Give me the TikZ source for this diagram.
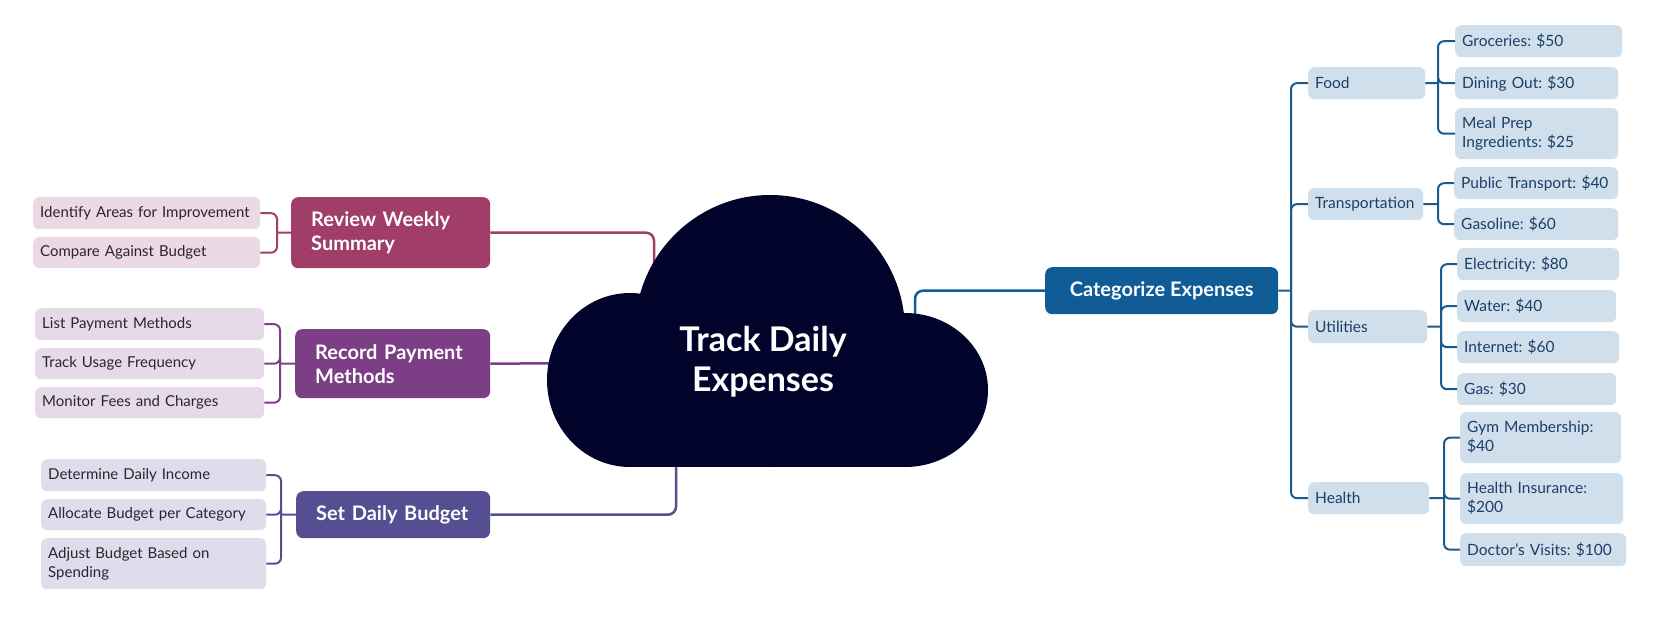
\documentclass[tikz,border=0pt]{standalone}
\usepackage{fontspec}
\setmainfont{Lato}
\frenchspacing
\definecolor{rev}{HTML}{A03D69}
\definecolor{revl}{HTML}{EBD9E3}
\definecolor{rec}{HTML}{7C3F86}
\definecolor{recl}{HTML}{E6DAE8}
\definecolor{setc}{HTML}{554E91}
\definecolor{setl}{HTML}{DFDDEC}
\definecolor{cat}{HTML}{0F5C96}
\definecolor{catl}{HTML}{D0DFEC}
\definecolor{cattext}{HTML}{1B3F66}
\definecolor{catline}{HTML}{1B5A8C}
\definecolor{lefttext}{HTML}{2C2430}
\definecolor{cloudc}{HTML}{02032A}
\begin{document}
\begin{tikzpicture}[x=1pt,y=-1pt,
  leaf/.style={rounded corners=6pt, inner xsep=7pt, inner ysep=0pt, align=left,
    anchor=north west, font=\fontsize{15}{19}\selectfont},
  leftleaf/.style={leaf, text=lefttext},
  rightleaf/.style={leaf, fill=catl, text=cattext, font=\fontsize{15.5}{19}\selectfont},
  main/.style={rounded corners=7pt, inner xsep=20pt, inner ysep=0pt, align=left,
    anchor=north west, text=white, font=\bfseries\fontsize{20}{24}\selectfont},
  mainline/.style={line width=2.5pt, rounded corners=8pt},
  subline/.style={line width=2pt, rounded corners=6pt}]
\useasboundingbox (0,0) rectangle (1662,627);

% ---------- left: Review Weekly Summary ----------
\node[main, fill=rev, text width=159pt, minimum height=71pt] (review) at (291,197) {Review Weekly\\Summary};
\node[leftleaf, fill=revl, text width=213pt, minimum height=32pt] (r1) at (33,197) {Identify Areas for Improvement};
\node[leftleaf, fill=revl, text width=213pt, minimum height=31pt] (r2) at (33,237) {Compare Against Budget};

% ---------- left: Record Payment Methods ----------
\node[main, fill=rec, text width=155pt, minimum height=69pt] (record) at (295,329) {Record Payment\\Methods};
\node[leftleaf, fill=recl, text width=215pt, minimum height=32pt] (p1) at (35,308) {List Payment Methods};
\node[leftleaf, fill=recl, text width=215pt, minimum height=31pt] (p2) at (35,348) {Track Usage Frequency};
\node[leftleaf, fill=recl, text width=215pt, minimum height=31pt] (p3) at (35,387) {Monitor Fees and Charges};

% ---------- left: Set Daily Budget ----------
\node[main, fill=setc, text width=154pt, minimum height=47pt] (set) at (296,491) {Set Daily Budget};
\node[leftleaf, fill=setl, text width=211pt, minimum height=32pt] (s1) at (41,459) {Determine Daily Income};
\node[leftleaf, fill=setl, text width=211pt, minimum height=31pt] (s2) at (41,499) {Allocate Budget per Category};
\node[leftleaf, fill=setl, text width=211pt, minimum height=51pt] (s3) at (41,538) {Adjust Budget Based on\\Spending};

% ---------- right: Categorize Expenses ----------
\node[main, fill=cat, align=center, inner xsep=0pt, minimum width=233pt, minimum height=47pt] (catn) at (1045,267) {Categorize Expenses};
\node[rightleaf, text width=103pt, minimum height=32pt] (food) at (1308,67) {Food};
\node[rightleaf, text width=101pt, minimum height=32pt] (trans) at (1308,188) {Transportation};
\node[rightleaf, text width=105pt, minimum height=33pt] (util) at (1308,310) {Utilities};
\node[rightleaf, text width=107pt, minimum height=32pt] (health) at (1308,482) {Health};

\node[rightleaf, text width=153pt, minimum height=32pt] (f1) at (1455,25) {Groceries: \$50};
\node[rightleaf, text width=149pt, minimum height=32pt] (f2) at (1455,67) {Dining Out: \$30};
\node[rightleaf, text width=149pt, minimum height=51pt] (f3) at (1455,108) {Meal Prep\\Ingredients: \$25};
\node[rightleaf, text width=150pt, minimum height=32pt] (t1) at (1454,167) {Public Transport: \$40};
\node[rightleaf, text width=150pt, minimum height=32pt] (t2) at (1454,208) {Gasoline: \$60};
\node[rightleaf, text width=148pt, minimum height=32pt] (u1) at (1457,248) {Electricity: \$80};
\node[rightleaf, text width=145pt, minimum height=32pt] (u2) at (1457,290) {Water: \$40};
\node[rightleaf, text width=148pt, minimum height=32pt] (u3) at (1457,331) {Internet: \$60};
\node[rightleaf, text width=145pt, minimum height=32pt] (u4) at (1457,373) {Gas: \$30};
\node[rightleaf, text width=147pt, minimum height=51pt] (h1) at (1460,412) {Gym Membership:\\\$40};
\node[rightleaf, text width=149pt, minimum height=51pt] (h2) at (1460,473) {Health Insurance:\\\$200};
\node[rightleaf, text width=152pt, minimum height=33pt] (h3) at (1460,533) {Doctor's Visits: \$100};

% ---------- connectors to the cloud (drawn before it) ----------
\coordinate (cR) at (654,300);
\coordinate (cP) at (590,363);
\coordinate (cS) at (676,440);
\coordinate (cC) at (915,345);
\draw[mainline, rev] (review.east) -| (cR);
\draw[mainline, rec] (record.east) -- (cP);
\draw[mainline, setc] (set.east) -| (cS);
\draw[mainline, cat] (catn.west) -| (cC);

% ---------- cloud ----------
\fill[cloudc] (630,380) ellipse [x radius=83pt, y radius=87pt];
\fill[cloudc] (905,390) ellipse [x radius=83pt, y radius=77pt];
\fill[cloudc] (770,331) ellipse [x radius=135pt, y radius=136pt];
\fill[cloudc] (630,380) rectangle (905,467);
\node[text=white, align=center, font=\bfseries\fontsize{34}{40}\selectfont] (root) at (763,362) {Track Daily\\Expenses};

% ---------- brackets, left ----------
\coordinate (rb) at (277,232.5);
\draw[subline, rev] (review.west) -- (rb);
\draw[subline, rev] (rb) |- (r1.east);
\draw[subline, rev] (rb) |- (r2.east);

\coordinate (pb) at (280,363.5);
\draw[subline, rec] (record.west) -- (pb);
\draw[subline, rec] (pb) |- (p1.east);
\draw[subline, rec] (pb) |- (p2.east);
\draw[subline, rec] (pb) |- (p3.east);

\coordinate (sb) at (281,514.5);
\draw[subline, setc] (set.west) -- (sb);
\draw[subline, setc] (sb) |- (s1.east);
\draw[subline, setc] (sb) |- (s2.east);
\draw[subline, setc] (sb) |- (s3.east);

% ---------- brackets, right ----------
\coordinate (cb) at (1291,290.5);
\draw[subline, catline] (catn.east) -- (cb);
\foreach \c in {food,trans,util,health} \draw[subline, catline] (cb) |- (\c.west);

\coordinate (fb) at (1438,83);
\draw[subline, catline] (food.east) -- (fb);
\foreach \c in {f1,f2,f3} \draw[subline, catline] (fb) |- (\c.west);

\coordinate (tb) at (1438,204);
\draw[subline, catline] (trans.east) -- (tb);
\foreach \c in {t1,t2} \draw[subline, catline] (tb) |- (\c.west);

\coordinate (ub) at (1441,326.5);
\draw[subline, catline] (util.east) -- (ub);
\foreach \c in {u1,u2,u3,u4} \draw[subline, catline] (ub) |- (\c.west);

\coordinate (hb) at (1444,498);
\draw[subline, catline] (health.east) -- (hb);
\foreach \c in {h1,h2,h3} \draw[subline, catline] (hb) |- (\c.west);
\end{tikzpicture}
\end{document}
